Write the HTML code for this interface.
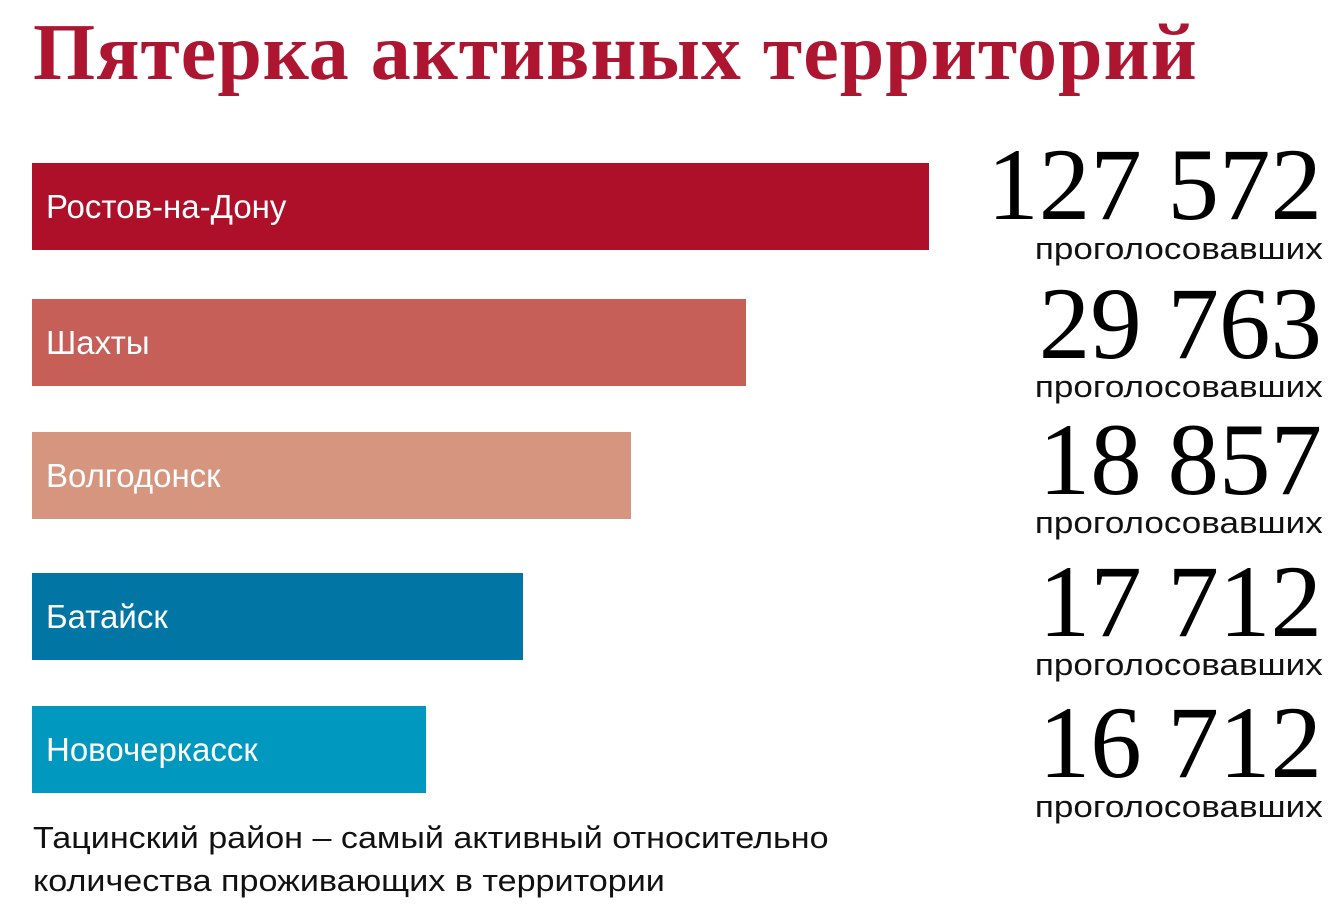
<!DOCTYPE html>
<html><head><meta charset="utf-8"><style>
html,body{margin:0;padding:0;background:#fff;width:1337px;height:923px;overflow:hidden;position:relative}
.t{position:absolute;left:33px;top:8px;font-family:"Liberation Serif",serif;font-weight:bold;font-size:80px;color:#ae1530;white-space:nowrap;letter-spacing:1px}
.b{position:absolute;left:32px;height:87px;color:#fff;font-family:"Liberation Sans",sans-serif;font-size:33px;line-height:87px;padding-left:14px;box-sizing:border-box;white-space:nowrap}
.n{position:absolute;right:15px;font-family:"Liberation Serif",serif;font-size:103px;line-height:100px;color:#000;white-space:nowrap;text-align:right}
.p{position:absolute;right:14px;font-family:"Liberation Sans",sans-serif;font-size:31px;line-height:30px;color:#111;text-align:right;transform:scaleX(1.13);transform-origin:right center;white-space:nowrap}
.f{position:absolute;left:33px;top:816px;font-family:"Liberation Sans",sans-serif;font-size:31px;line-height:43px;color:#111;transform:scaleX(1.1);transform-origin:left top;white-space:nowrap}
</style></head><body>
<div class="t">Пятерка активных территорий</div>
<div class="b" style="top:163px;width:897px;background:#ae0f29">Ростов-на-Дону</div>
<div class="b" style="top:299px;width:714px;background:#c65f57">Шахты</div>
<div class="b" style="top:432px;width:599px;background:#d5957f">Волгодонск</div>
<div class="b" style="top:573px;width:491px;background:#0176a5">Батайск</div>
<div class="b" style="top:706px;width:394px;background:#0198c0">Новочеркасск</div>

<div class="n" style="top:135px">127 572</div><div class="p" style="top:234px">проголосовавших</div>
<div class="n" style="top:274px">29 763</div><div class="p" style="top:372px">проголосовавших</div>
<div class="n" style="top:410px">18 857</div><div class="p" style="top:508px">проголосовавших</div>
<div class="n" style="top:552px">17 712</div><div class="p" style="top:650px">проголосовавших</div>
<div class="n" style="top:693px">16 712</div><div class="p" style="top:792px">проголосовавших</div>

<div class="f">Тацинский район – самый активный относительно<br>количества проживающих в территории</div>
</body></html>
